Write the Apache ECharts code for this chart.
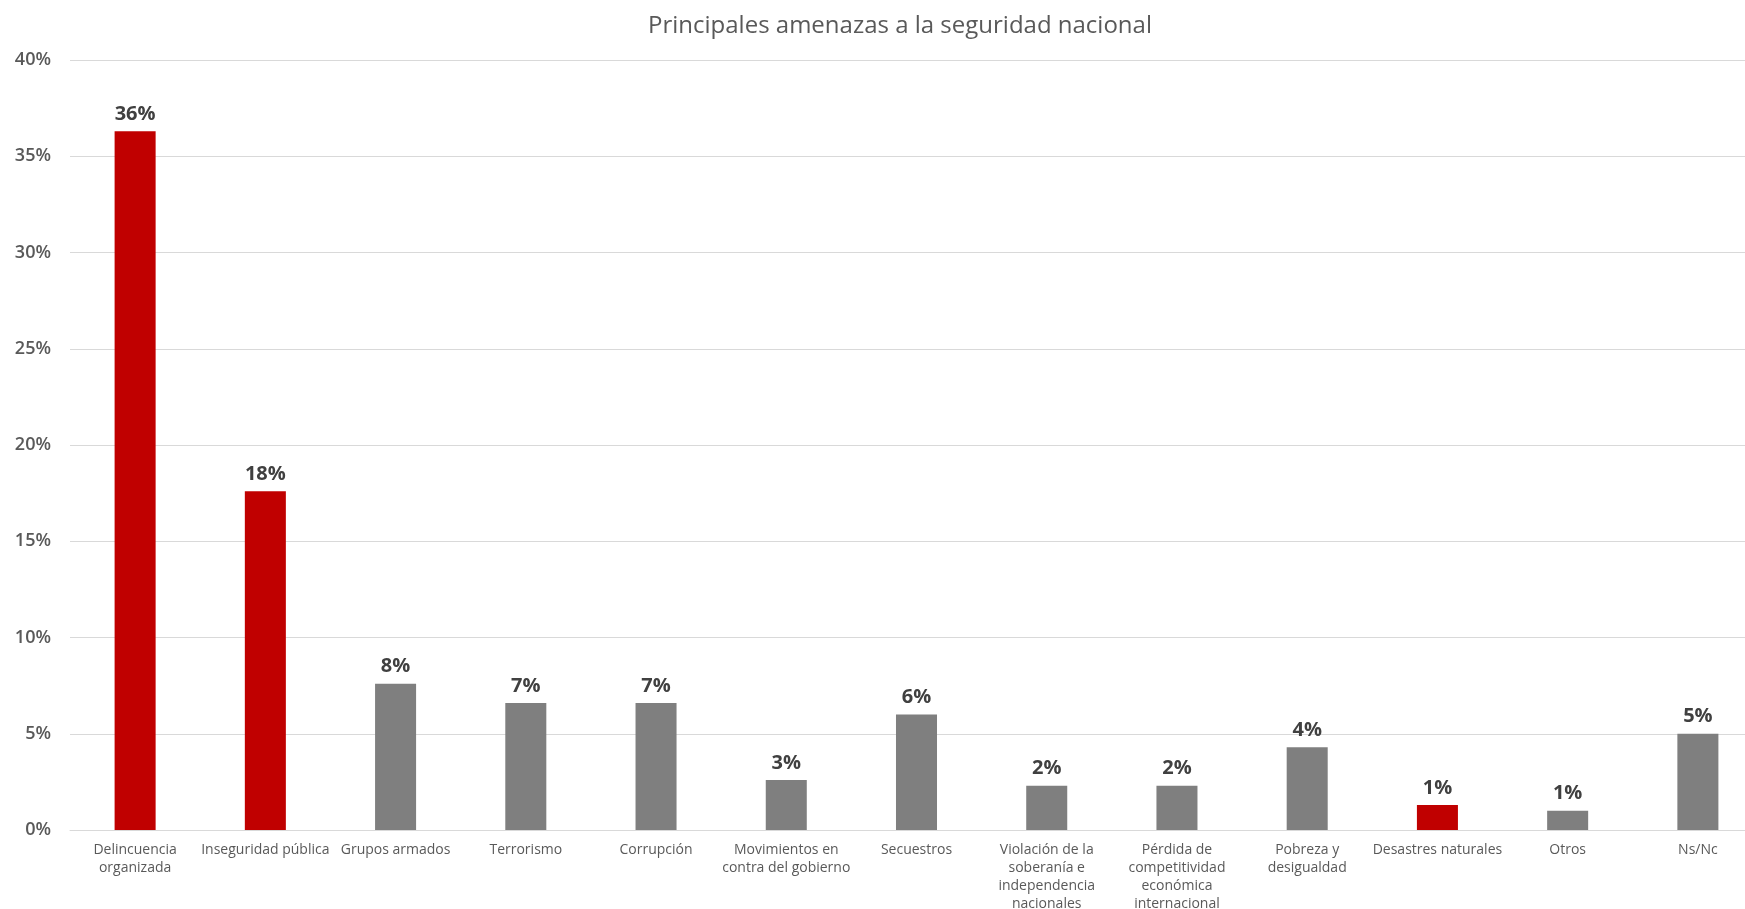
<!DOCTYPE html>
<html>
<head>
<meta charset="utf-8">
<script src="https://cdn.jsdelivr.net/npm/echarts@6/dist/echarts.min.js"></script>
<style>html,body{margin:0;padding:0;background:#fff}#c{width:1745px;height:909px}</style>
</head>
<body>
<div id="c"></div>
<script>
var title = 'Principales amenazas a la seguridad nacional';
var categories = [
  'Delincuencia\norganizada', 'Inseguridad pública', 'Grupos armados', 'Terrorismo',
  'Corrupción', 'Movimientos en\ncontra del gobierno', 'Secuestros',
  'Violación de la\nsoberanía e\nindependencia\nnacionales',
  'Pérdida de\ncompetitividad\neconómica\ninternacional',
  'Pobreza y\ndesigualdad', 'Desastres naturales', 'Otros', 'Ns/Nc'
];
var values = [36.3, 17.6, 7.6, 6.6, 6.6, 2.6, 6.0, 2.3, 2.3, 4.3, 1.3, 1.0, 5.0];
var highlighted = [true, true, false, false, false, false, false, false, false, false, true, false, false];
var yTicks = [0, 5, 10, 15, 20, 25, 30, 35, 40];

var RED = '#C00000', GREY = '#7F7F7F';
var chart = echarts.init(document.getElementById('c'));
chart.setOption({
  animation: false,
  backgroundColor: '#fff',
  title: {
    text: title, left: 643, top: 9,
    textStyle: { fontFamily: 'Open Sans', fontSize: 24, fontWeight: 'normal', color: '#595959' }
  },
  grid: { left: 70, width: 1693, top: 60, bottom: 79, containLabel: false, outerBoundsMode: 'none' },
  xAxis: {
    type: 'category',
    data: categories,
    axisLine: { show: true, lineStyle: { color: '#D9D9D9', width: 1 } },
    axisTick: { show: false },
    axisLabel: {
      interval: 0, margin: 11, color: '#595959', fontFamily: 'Open Sans', fontSize: 14, lineHeight: 18
    }
  },
  yAxis: {
    type: 'value', min: yTicks[0], max: yTicks[yTicks.length - 1], interval: 5,
    axisLine: { show: false }, axisTick: { show: false },
    splitLine: { lineStyle: { color: '#D9D9D9', width: 1 } },
    axisLabel: {
      formatter: function (v) { return v + '%'; },
      color: '#595959', fontFamily: 'Open Sans', fontSize: 18, fontWeight: 600, margin: 19
    }
  },
  series: [{
    type: 'bar',
    barWidth: '31.5%',
    data: values.map(function (v, i) {
      return { value: v, itemStyle: { color: highlighted[i] ? RED : GREY } };
    }),
    label: {
      show: true, position: 'top', distance: 7,
      formatter: function (p) { return Math.round(p.value) + '%'; },
      color: '#404040', fontFamily: 'Open Sans', fontWeight: 'bold', fontSize: 20
    }
  }]
});
</script>
</body>
</html>
